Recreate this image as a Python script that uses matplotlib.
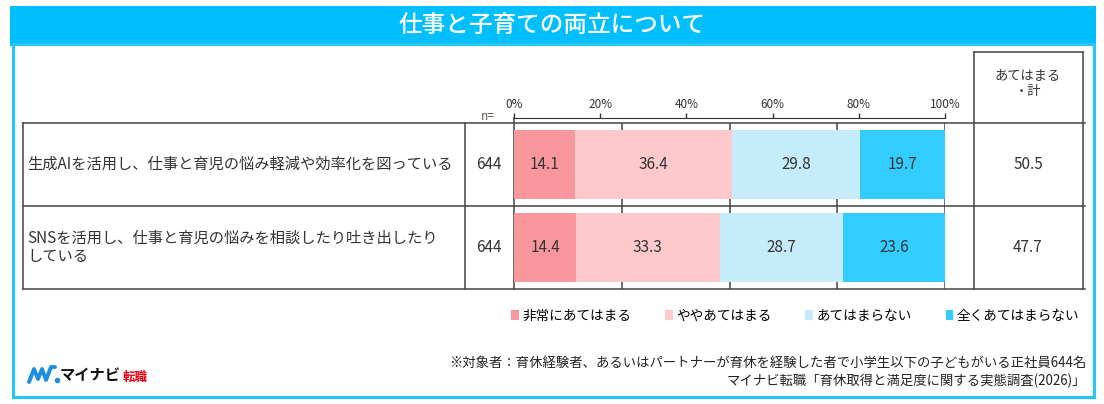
import numpy as np
import matplotlib
matplotlib.use("Agg")
import matplotlib.pyplot as plt
from matplotlib.patches import Rectangle, Patch

plt.rcParams['font.family'] = ['Noto Sans CJK JP', 'DejaVu Sans']

# data
title = "仕事と子育ての両立について"
items = ["生成AIを活用し、仕事と育児の悩み軽減や効率化を図っている",
         "SNSを活用し、仕事と育児の悩みを相談したり吐き出したり\nしている"]
n_values = [644, 644]
categories = ["非常にあてはまる", "ややあてはまる", "あてはまらない", "全くあてはまらない"]
very = [14.1, 14.4]
somewhat = [36.4, 33.3]
not_really = [29.8, 28.7]
not_at_all = [19.7, 23.6]
total_label = "あてはまる\n・計"
totals = [50.5, 47.7]
x_ticks = [0, 20, 40, 60, 80, 100]
note1 = "※対象者：育休経験者、あるいはパートナーが育休を経験した者で小学生以下の子どもがいる正社員644名"
note2 = "マイナビ転職「育休取得と満足度に関する実態調査(2026)」"

colors = ["#FA979C", "#FFC9CC", "#C6ECFB", "#33CCFF"]
line_c = "#444444"
text_c = "#333333"

W, H = 1104, 404
fig = plt.figure(figsize=(W / 100, H / 100), dpi=100)

# overlay axes in pixel coordinates for frame and table lines
bg = fig.add_axes([0, 0, 1, 1], zorder=0)
bg.set_xlim(0, W)
bg.set_ylim(H, 0)
bg.axis('off')

bg.add_patch(Rectangle((10, 6), 1086, 40, facecolor="#00BFFF", edgecolor="none"))
bg.text(W / 2, 25, title, color="white", fontsize=17, fontweight="medium",
        ha="center", va="center")
bg.add_patch(Rectangle((12.5, 44), 1081, 353, facecolor="none", edgecolor="#2BC3F0", linewidth=2.3))

row_edges = [123, 206, 289]
for y in row_edges:
    bg.plot([23, 1085], [y, y], color=line_c, lw=1.1)
for x in [23, 465]:
    bg.plot([x, x], [row_edges[0], row_edges[-1]], color=line_c, lw=1.1)
bg.plot([514, 514], [118, 289], color=line_c, lw=1.1)
for x in [974, 1083]:
    bg.plot([x, x], [52, 289], color=line_c, lw=1.1)
bg.plot([974, 1083], [52, 52], color=line_c, lw=1.1)

row_mid = [(row_edges[i] + row_edges[i + 1]) / 2 for i in range(len(items))]
for i, label in enumerate(items):
    bg.text(27, row_mid[i], label, fontsize=11, color=text_c, ha="left", va="center", linespacing=1.15)
    bg.text(489, row_mid[i], str(n_values[i]), fontsize=11, color=text_c, ha="center", va="center")
    bg.text(1028, row_mid[i], f"{totals[i]:.1f}", fontsize=11, color=text_c, ha="center", va="center")
bg.text(1028, 84, total_label, fontsize=9.5, color=text_c, ha="center", va="center", linespacing=1.3)
bg.text(488, 116, "n=", fontsize=8.5, color="#6b5a4a", ha="center", va="center")

# footnotes and logo
bg.text(1086, 363, note1, fontsize=9.6, color="#222222", ha="right", va="center")
bg.text(1086, 381, note2, fontsize=9.6, color="#222222", ha="right", va="center")
bg.plot([29, 34, 38, 42, 46, 51, 55], [382, 369, 379, 369, 380, 367, 367],
        color="#1E8FE0", lw=2.8, solid_capstyle="round", solid_joinstyle="round")
bg.plot([57], [380], marker="o", ms=3, color="#1E8FE0")
bg.text(60, 375, "マイナビ", fontsize=11, fontweight="bold", color="#111111", ha="left", va="center")
bg.text(123, 377, "転職", fontsize=9, fontweight="bold", color="#E60012", ha="left", va="center")

# stacked bars
ax = fig.add_axes([514 / W, 1 - 289 / H, 431 / W, 166 / H], zorder=2)
ax.patch.set_alpha(0)
y_pos = np.arange(len(items))
ax.vlines([25, 50, 75, 100], -0.5, len(items) - 0.5, color=line_c, lw=1.1, zorder=0)
series = [very, somewhat, not_really, not_at_all]
left = np.zeros(len(items))
for vals, c, name in zip(series, colors, categories):
    bars = ax.barh(y_pos, vals, left=left, height=0.82, color=c, label=name, zorder=2)
    ax.bar_label(bars, labels=[f"{v:.1f}" for v in vals], label_type="center",
                 fontsize=11, color=text_c)
    left += np.array(vals)

ax.set_xlim(0, 100)
ax.set_ylim(len(items) - 0.5, -0.5)
ax.set_yticks([])
ax.xaxis.tick_top()
ax.set_xticks(x_ticks)
ax.set_xticklabels([f"{t}%" for t in x_ticks])
ax.tick_params(axis="x", length=3.6, width=1, color=text_c, labelsize=8.5,
               labelcolor=text_c, pad=1.5)
for s in ["left", "right", "bottom"]:
    ax.spines[s].set_visible(False)
ax.spines["top"].set_position(("outward", 3.6))
ax.spines["top"].set_color(text_c)

handles = [Patch(facecolor=c, edgecolor="none") for c in colors]
fig.legend(handles, categories, loc="center right", bbox_to_anchor=(1086 / W, 1 - 316 / H),
           ncol=4, frameon=False, fontsize=9.8, handlelength=0.55, handleheight=0.7,
           handletextpad=0.25, columnspacing=2.5, borderpad=0)

fig.savefig("out.png", dpi=100, facecolor="white")
